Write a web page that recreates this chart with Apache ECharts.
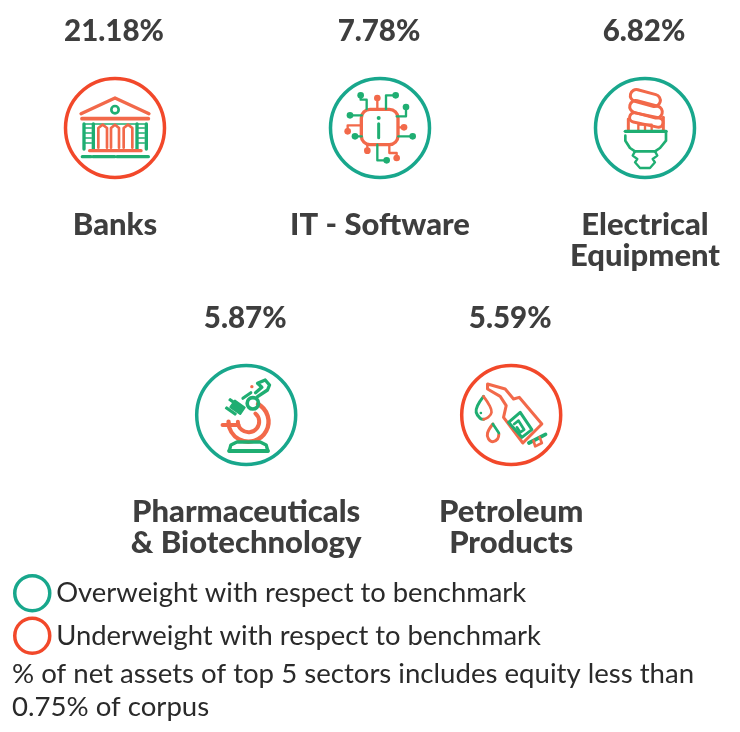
<!DOCTYPE html>
<html><head><meta charset="utf-8">
<style>html,body{margin:0;padding:0;background:#fff}#c{width:740px;height:732px}</style>
<script src="https://cdn.jsdelivr.net/npm/echarts@6/dist/echarts.min.js"></script>
</head><body><div id="c"></div>
<script>
const sectors = ['Banks','IT - Software','Electrical\nEquipment','Pharmaceuticals\n& Biotechnology','Petroleum\nProducts'];
const weights = [21.18,7.78,6.82,5.87,5.59];
const stance = ['under','over','over','over','under'];
const legendOver = 'Overweight with respect to benchmark';
const legendUnder = 'Underweight with respect to benchmark';
const footnote = '% of net assets of top 5 sectors includes equity less than\n0.75% of corpus';

const TEAL='#18a78c', RED='#f2482a', G='#1fae72', O='#f2694a', INK='#3e3e3e';
const BOLD='"Lato","Noto Sans",sans-serif';

function S(c,w){return {stroke:c,lineWidth:w||8,fill:'none',lineCap:'round',lineJoin:'round'};}
function L(c,pts,w,smooth){return {type:'polyline',shape:{points:pts,smooth:smooth||0},style:S(c,w)};}
function P(c,pts,w){return {type:'polygon',shape:{points:pts},style:S(c,w)};}
function D(c,x,y,r){return {type:'circle',shape:{cx:x,cy:y,r:r},style:{fill:c}};}
function R(c,x,y,r,w){return {type:'circle',shape:{cx:x,cy:y,r:r},style:S(c,w)};}
function A(c,x,y,r,a0,a1,w){return {type:'arc',shape:{cx:x,cy:y,r:r,startAngle:a0*Math.PI/180,endAngle:a1*Math.PI/180,clockwise:true},style:S(c,w)};}
function B(c,cx,cy,w0,h0,deg,r,w){return {type:'rect',x:cx,y:cy,rotation:deg*Math.PI/180,shape:{x:-w0/2,y:-h0/2,width:w0,height:h0,r:r||0},style:S(c,w)};}
function F(c,cx,cy,w0,h0,deg){return {type:'rect',x:cx,y:cy,rotation:deg*Math.PI/180,shape:{x:-w0/2,y:-h0/2,width:w0,height:h0,r:3},style:{fill:c}};}
function icon(cx,cy,ch){return {type:'group',x:-cx/3,y:-cy/3,scaleX:1/3,scaleY:1/3,children:ch};}

function arch(x0,x1){return L(O,[[x0,414],[x0,355],[(x0+x1)/2,345],[x1,355],[x1,414]],8);}
function post(x0,x1){return [L(G,[[x0,343],[x0,418]],10),L(G,[[x1,343],[x1,418]],10),
  L(G,[[x0,370],[x1-6,370]],5),L(G,[[x0,385],[x1-6,385]],5),L(G,[[x0,400],[x1-6,400]],5),L(G,[[x0,355],[x1-6,355]],5)];}
function bank(){return icon(196,355,[
  L(O,[[94,312],[196,265],[298,312]],10),
  L(O,[[97,327],[296,327]],11), R(G,196,300,11,8),
  L(G,[[102,343],[290,343]],5),
  ...post(103,131),...post(262,290),
  arch(146,172),arch(184,208),arch(222,248),
  L(O,[[120,423],[274,423]],10),
  L(G,[[98,441],[124,441]],10),L(G,[[130,441],[195,441]],10),L(G,[[202,441],[296,441]],10)
]);}
function chip(){
  const gl=[[[932,257],[932,270],[950,270],[950,298]],[[1037,257],[1008,257],[1008,298]],[[1068,292],[1068,320],[1040,320]],
    [[900,317],[935,317]],[[915,380],[935,380]],[[1088,380],[1045,380]],[[1010,452],[982,452],[982,405]]];
  const ol=[[[982,265],[982,295]],[[893,365],[893,347],[935,347]],[[1062,353],[1045,353]],[[952,423],[952,405]],[[1040,445],[1040,430],[1018,430],[1018,405]]];
  const ch=[{type:'rect',shape:{x:934,y:299,width:110,height:106,r:26},style:S(O,10)},
    D(G,986,325,6),L(G,[[986,342],[986,384]],9)];
  gl.forEach(p=>{ch.push(L(G,p,7));ch.push(D(G,p[0][0],p[0][1],10));});
  ol.forEach(p=>{ch.push(L(O,p,7));ch.push(D(O,p[0][0],p[0][1],10));});
  return icon(990,355,ch);
}
function bulb(){return icon(255,202,[
  B(O,256,112,92,36,-15,18,9),B(O,258,146,100,36,-15,18,9),B(O,259,178,102,28,-12,14,9),
  L(O,[[205,175],[205,212]],9),L(O,[[310,170],[310,212]],9),
  L(O,[[235,210],[235,192],[275,192],[275,210]],7),L(O,[[255,192],[255,210]],7),
  L(G,[[196,212],[318,212]],10),
  L(G,[[318,212],[318,240],[300,262],[285,272]],8),
  L(G,[[196,225],[196,240],[210,262],[225,272]],8),
  L(G,[[225,272],[285,272]],8),
  L(G,[[225,272],[218,285],[232,295],[225,305],[240,322],[270,322],[285,305],[278,295],[292,285],[285,272]],7),
]);}
function scope(){return icon(198,195,[
  A(O,205,215,60,-62,180,13),A(O,205,215,32,-50,180,12),
  L(O,[[127,225],[175,225]],12),
  L(G,[[147,303],[263,303]],12),
  L(G,[[147,303],[152,285],[170,276],[240,276],[258,285],[263,303]],10),
  F(G,172,172,42,30,-35),F(G,152,183,10,40,55),F(G,165,160,10,46,55),
  R(G,218,160,17,11),
  L(G,[[188,145],[212,128]],9),
  L(G,[[232,140],[262,120],[268,105],[255,90],[232,100],[245,112],[226,128]],10),
  D(O,215,110,5)
]);}
function nozzle(){return icon(183,178,[
  P(O,[[112,85],[165,100],[190,130],[207,125],[275,205],[218,262],[160,185],[168,150],[150,122],[112,100]],9),
  P(G,[[175,200],[210,170],[245,222],[215,245]],9),
  L(G,[[192,205],[205,195],[222,222],[210,230],[200,215]],8),
  L(G,[[236,262],[286,236]],11),
  L(O,[[250,255],[255,272],[275,262],[268,245]],8),
  L(G,[[100,122],[82,150],[78,170],[90,188],[100,191]],9,0.4),
  L(O,[[100,122],[118,150],[124,170],[114,185],[100,191]],8,0.4),
  L(O,[[128,205],[112,232],[115,250],[128,258],[142,250],[146,235]],9,0.4),
  L(G,[[128,205],[146,232]],8),
  D(G,92,172,4)
]);}
const icons=[bank,chip,bulb,scope,nozzle];

const slotOf=i=>i<3?2*i:2*(i-3)+1, rowOf=i=>i<3?0:1;
function rows(k){const a=[];stance.forEach((s,i)=>{if(s===k)a.push([slotOf(i),rowOf(i),i]);});return a;}
function renderItem(params,api){
  const p=api.coord([api.value(0),api.value(1)]), i=api.value(2);
  const col=params.seriesIndex===0?TEAL:RED;
  return {type:'group',x:p[0]-(api.value(1)?1.3:0),y:p[1],children:[
    {type:'circle',shape:{cx:0,cy:0,r:49.5},style:{stroke:col,lineWidth:3.5,fill:'#fff'}},
    icons[i](),
    {type:'text',style:{text:weights[i].toFixed(2)+'%',x:-1,y:-97,align:'center',verticalAlign:'middle',font:'900 29.5px '+BOLD,fill:INK}},
    {type:'text',style:{text:sectors[i],x:0,y:81,align:'center',verticalAlign:'top',font:'900 31px '+BOLD,lineHeight:31,fill:INK}}
  ]};
}
const chart=echarts.init(document.getElementById('c'),null,{renderer:'canvas'});
chart.setOption({
  animation:false,backgroundColor:'#fff',
  title:{text:footnote,left:12,top:658,padding:0,textStyle:{color:'#2a2a2a',fontFamily:'Lato',fontWeight:'normal',fontSize:27.6,lineHeight:33}},
  legend:{left:13,top:574,orient:'vertical',itemWidth:36,itemHeight:35,itemGap:4,padding:0,selectedMode:false,
    textStyle:{color:'#2a2a2a',fontFamily:'Lato',fontSize:27.4,padding:[0,0,6,1]},
    data:[{name:legendOver,icon:'circle',itemStyle:{color:'#fff',borderColor:TEAL,borderWidth:3.5}},
          {name:legendUnder,icon:'circle',itemStyle:{color:'#fff',borderColor:RED,borderWidth:3.5}}]},
  grid:{left:115,top:128,width:530,height:287,containLabel:false},
  xAxis:{type:'value',min:0,max:4,interval:1,show:false},
  yAxis:{type:'value',min:0,max:1,interval:1,inverse:true,show:false},
  series:[
    {name:legendOver,type:'custom',coordinateSystem:'cartesian2d',renderItem,data:rows('over'),clip:false,silent:true,itemStyle:{color:TEAL}},
    {name:legendUnder,type:'custom',coordinateSystem:'cartesian2d',renderItem,data:rows('under'),clip:false,silent:true,itemStyle:{color:RED}}
  ]
});
</script></body></html>
